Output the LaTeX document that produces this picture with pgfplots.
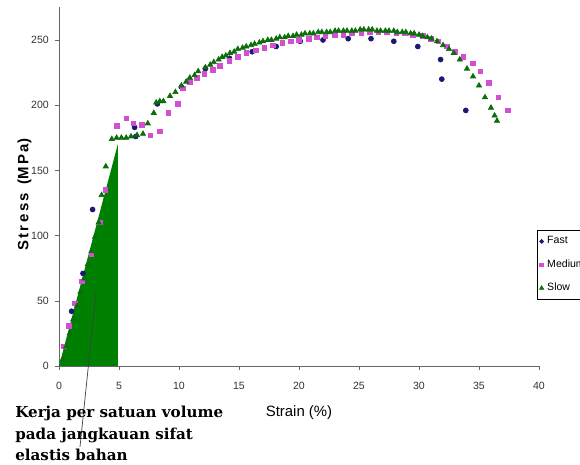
\documentclass[border=0pt]{standalone}
\usepackage{fontspec}
\setmainfont{Liberation Sans}
\newfontfamily\annfont{DejaVu Serif}
\usepackage{pgfplots}
\pgfplotsset{compat=1.18}

\definecolor{fastc}{HTML}{1A1A72}
\definecolor{medc}{HTML}{D24FD2}
\definecolor{slowc}{HTML}{0B6E0B}
\definecolor{fillg}{HTML}{008000}

\begin{document}
\begin{tikzpicture}
\path[use as bounding box] (0,0) rectangle (11.6cm,9.3cm);
\clip (0,0) rectangle (11.6cm,9.3cm);
\begin{axis}[
    at={(1.18cm,1.98cm)}, anchor=south west,
    scale only axis,
    width=9.6cm, height=7.172cm,
    xmin=0, xmax=40, ymin=0, ymax=275,
    axis x line*=bottom, axis y line*=left,
    axis line style={black!60},
    xtick={0,5,...,40}, ytick={0,50,...,250},
    tick align=outside,
    major tick length=0.08cm,
    tick style={black!60},
    /pgf/number format/assume math mode=true,
    ticklabel style={font=\fontsize{6}{7}\selectfont, text=black!80},
    xticklabel style={yshift=-0.12cm},
    xlabel={Strain (\%)},
    ylabel={\textbf{S\,t\,r\,e\,s\,s\ \ (M\,P\,a)}},
    xlabel style={font=\fontsize{8.5}{10}\selectfont, at={(axis description cs:0.5,-0.131)}, anchor=center},
    ylabel style={font=\fontsize{8.5}{10}\selectfont, at={(axis description cs:-0.072,0.477)}, anchor=center},
    clip=false,
    legend style={at={(axis cs:39.8,104.3)}, anchor=north west, draw=black,
        font=\fontsize{6}{7}\selectfont, inner sep=1.5pt, row sep=3.5pt,
        legend cell align=left},
    legend image post style={scale=0.8},
]
% Fast
\addplot[only marks, mark=*, mark size=1.4pt, color=fastc] coordinates {
(1.05,42) (2.0,71) (2.8,120) (6.3,183) (6.4,176) (8.2,201) (10.2,214)
(12.2,228) (14.2,236) (16.1,241) (18.1,245) (20.1,249) (22.0,250)
(24.1,251) (26.0,251) (27.9,249) (29.9,245) (31.8,235) (31.9,220) (33.9,196)
};
% Medium
\addplot[only marks, mark=square*, mark size=1.3pt, color=medc] coordinates {
(0.4,15) (0.8,31) (1.3,48) (1.9,65) (2.7,86) (3.4,110) (3.85,135)
(4.8,184) (5.6,190) (6.2,186) (6.9,185) (7.6,177) (8.4,180) (9.1,194)
(9.9,201) (10.3,213) (10.9,218) (11.5,221) (12.1,224) (12.8,227) (13.4,230)
(14.2,234) (14.9,237) (15.6,240) (16.4,242) (17.1,244) (17.8,246) (18.6,248)
(19.3,249) (20.0,250) (20.8,251) (21.5,252) (22.2,253) (23.0,254) (23.7,254)
(24.4,255) (25.2,255) (25.9,256) (26.6,256) (27.3,256) (28.1,255) (28.8,255)
(29.5,254) (30.3,253) (31.0,251) (31.6,249) (32.3,245) (33.0,241) (33.7,237)
(34.5,232) (35.1,226) (35.8,217) (36.6,206) (37.4,196)
};
% Slow
\addplot[only marks, mark=triangle*, mark size=1.7pt, color=slowc] coordinates {
(0.3,5) (0.6,15) (0.9,25) (1.2,36) (1.5,46) (1.8,57) (2.1,67) (2.4,78)
(2.7,88) (3.0,99) (3.3,110) (3.55,131) (3.9,153) (4.4,174) (4.8,175)
(5.2,175) (5.6,175) (6.0,176) (6.5,177) (7.0,178) (7.4,186) (7.9,194)
(8.1,202) (8.4,203) (8.7,203) (9.25,207) (9.7,210) (10.2,215) (10.6,218)
(10.9,221) (11.3,223) (11.6,226) (12.2,229) (12.6,231) (12.9,233) (13.3,235)
(13.6,237) (13.9,238) (14.25,240) (14.6,241) (14.9,243) (15.3,244) (15.6,245)
(16.0,246) (16.3,247) (16.7,248) (17.0,249) (17.4,250) (17.7,250) (18.1,251)
(18.4,252) (18.8,252) (19.1,253) (19.5,253) (19.8,254) (20.2,254) (20.5,255)
(20.9,255) (21.2,255) (21.6,256) (21.9,256) (22.3,256) (22.6,256) (23.0,257)
(23.3,257) (23.7,257) (24.0,257) (24.4,257) (24.7,257) (25.1,258) (25.4,258)
(25.8,258) (26.1,258) (26.5,257) (26.8,257) (27.2,257) (27.5,257) (27.9,257)
(28.2,256) (28.6,256) (28.9,256) (29.3,255) (29.6,255) (30.0,254) (30.3,253)
(30.7,252) (31.05,251) (31.5,249) (32.0,246) (32.5,243) (32.9,240) (33.4,235)
(34.0,228) (34.5,222) (35.0,215) (35.5,206) (36.0,198) (36.3,192) (36.5,188)
};
\legend{Fast, Medium, Slow}

% elastic work area, drawn over the points
\addplot[fill=fillg, draw=none, forget plot] coordinates {(0,0) (4.9,170) (4.9,0)} -- cycle;

% pointer line for annotation
\draw[black!75, line width=0.4pt] (axis cs:1.75,-62) -- (axis cs:3.1,58);
\end{axis}

\node[anchor=base west, inner sep=0pt, font=\annfont\bfseries\fontsize{8.6}{10}\selectfont] at (0.3cm,0.94cm) {Kerja per satuan volume};
\node[anchor=base west, inner sep=0pt, font=\annfont\bfseries\fontsize{8.6}{10}\selectfont] at (0.3cm,0.51cm) {pada jangkauan sifat};
\node[anchor=base west, inner sep=0pt, font=\annfont\bfseries\fontsize{8.6}{10}\selectfont] at (0.3cm,0.09cm) {elastis bahan};
\end{tikzpicture}
\end{document}
